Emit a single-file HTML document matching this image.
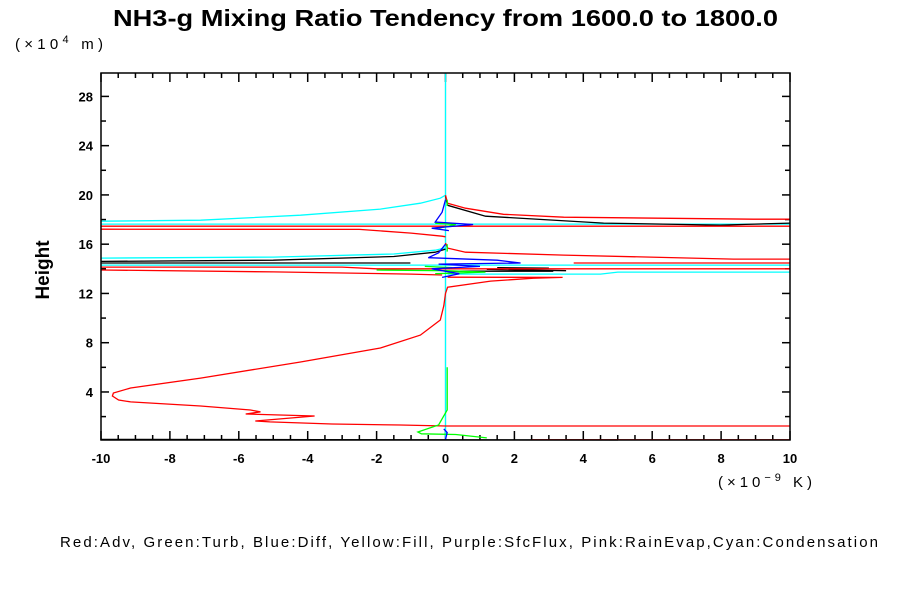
<!DOCTYPE html>
<html><head><meta charset="utf-8"><style>
body{margin:0;background:#fff}
svg{font-family:"Liberation Sans",sans-serif}
</style></head><body>
<svg id="chart" width="900" height="600" xmlns="http://www.w3.org/2000/svg">
<rect width="900" height="600" fill="#fff"/>
<text x="113" y="26" textLength="665" lengthAdjust="spacingAndGlyphs" font-size="23" font-weight="bold">NH3-g Mixing Ratio Tendency from 1600.0 to 1800.0</text>
<text x="15" y="49" textLength="88" lengthAdjust="spacing" font-size="15">(×10<tspan dy="-6" font-size="11">4</tspan><tspan dy="6"> m)</tspan></text>
<text transform="translate(49,270) rotate(-90)" text-anchor="middle" font-size="19" font-weight="bold">Height</text>
<text x="718" y="487" textLength="94" lengthAdjust="spacing" font-size="15">(×10<tspan dy="-6" font-size="11">−9</tspan><tspan dy="6"> K)</tspan></text>
<text x="60" y="547" textLength="818" lengthAdjust="spacing" font-size="15">Red:Adv, Green:Turb, Blue:Diff, Yellow:Fill, Purple:SfcFlux, Pink:RainEvap,Cyan:Condensation</text>
<g id="ticks"></g>
<g id="series"></g>
<rect x="101" y="73" width="689" height="367" fill="none" stroke="#000" stroke-width="1.5"/>
</svg>
<script>
const xTicks=[-10,-8,-6,-4,-2,0,2,4,6,8,10];
const yTicks=[4,8,12,16,20,24,28];
const xDomain=[-10,10];
const yDomain=[0.1,29.9];
// each series: list of polylines of [x (1e-9 K), height (1e4 m)]
const advLines=[
 [[0,12.0],[-0.05,11.0],[-0.15,9.84],[-0.73,8.62],[-1.89,7.57],[-4.21,6.43],[-7.11,5.13],[-9.14,4.32],[-9.64,3.92],[-9.67,3.67],[-9.49,3.35],[-9.14,3.19],[-7.11,2.86],[-5.66,2.54],[-5.37,2.38],[-5.8,2.21],[-3.8,2.05],[-5.52,1.64],[-5.1,1.57],[-3.3,1.4],[-1.31,1.32],[0,1.24],[10,1.24]],
 [[2.5,0.12],[10,0.12]],
 [[0,19.98],[0.06,19.33],[0.58,18.92],[1.68,18.43],[3.43,18.19],[8.94,18.03],[10,18.03]],
 [[-10,17.46],[10,17.46]],
 [[-10,17.22],[-2.5,17.2],[-1.0,16.9],[-0.1,16.65],[0,16.6]],
 [[0,16.1],[0.06,15.68],[0.58,15.35],[3.43,15.11],[8.36,14.79],[10,14.79]],
 [[3.72,14.47],[10,14.47]],
 [[-10,14.14],[-3.0,14.14],[-2,14.0],[10,14.0]],
 [[-10,13.9],[-5,13.75],[-1.0,13.57],[-0.1,13.5]],
 [[0,12.0],[0.06,12.51],[1.31,13.0],[2.55,13.24],[3.4,13.3],[0.06,13.32]]
];
const turbLines=[
 [[0.05,6.0],[0.05,2.54],[-0.2,1.32],[-0.8,0.75],[-0.7,0.6],[0.3,0.55],[1.2,0.27]],
 [[0.05,19.6],[0.05,19.1]],
 [[-0.3,17.7],[0.3,17.6],[-0.2,17.3]],
 [[0.05,16.0],[0.05,15.4]],
 [[-2.0,13.9],[0.0,13.85],[1.16,13.73],[-0.3,13.6]],
 [[-0.6,14.2],[0.2,14.1]]
];
const diffLines=[
 [[0,0.15],[0.05,0.7],[-0.05,1.0]],
 [[0,19.6],[-0.1,18.6],[-0.3,17.8],[0.8,17.6],[-0.4,17.3],[0.1,17.1]],
 [[0,16.0],[-0.2,15.3],[-0.5,14.9],[1.5,14.7],[2.18,14.47],[-0.2,14.38],[1.0,14.2],[-0.4,14.0],[0.4,13.6],[-0.1,13.3]]
];
const condLines=[
 [[0,0.1],[0,29.9]],
 [[-10,17.87],[-7.11,17.95],[-4.21,18.35],[-1.89,18.85],[-0.73,19.33],[-0.15,19.73],[0,19.98]],
 [[-10,17.63],[10,17.63]],
 [[-10,14.87],[-5,14.95],[-1.5,15.2],[-0.3,15.51],[0,15.7]],
 [[-10,14.3],[10,14.3]],
 [[0.06,13.57],[4.5,13.57],[5.0,13.73],[10,13.73]]
];
const blackLines=[
 [[0,19.9],[0.06,19.16],[1.16,18.27],[4.59,17.71],[7.98,17.55],[10,17.71]],
 [[-10,14.47],[-1.02,14.47]],
 [[-10,14.6],[-5,14.7],[-1.5,15.0],[-0.3,15.35],[0,15.6]],
 [[0.06,13.81],[3.13,13.81]],
 [[1.5,14.1],[3.0,14.05],[1.2,13.95],[3.5,13.85]],
 [[-10,0.15],[5,0.1]]
];
const series=[
 {name:'condensation',color:'#00ffff',lines:condLines},
 {name:'black-total',color:'#000000',lines:blackLines},
 {name:'advection',color:'#ff0000',lines:advLines},
 {name:'turbulence',color:'#00ff00',lines:turbLines},
 {name:'diffusion',color:'#0000ff',lines:diffLines}
];
const X0=101,X1=790,Y0=440,Y1=73;
function sx(v){return X0+(v-xDomain[0])/(xDomain[1]-xDomain[0])*(X1-X0);}
function sy(v){return Y0-(v-yDomain[0])/(yDomain[1]-yDomain[0])*(Y0-Y1);}
const NS='http://www.w3.org/2000/svg';
const tg=document.getElementById('ticks');
function line(p,x1,y1,x2,y2,c,w){const l=document.createElementNS(NS,'line');l.setAttribute('x1',x1);l.setAttribute('y1',y1);l.setAttribute('x2',x2);l.setAttribute('y2',y2);l.setAttribute('stroke',c);l.setAttribute('stroke-width',w);p.appendChild(l);return l;}
for(let v=-10;v<=10.001;v+=0.5){
 const major=Math.abs(v-Math.round(v/2)*2)<0.01;
 const len=major?9:5;
 const l1=line(tg,sx(v),Y0,sx(v),Y0-len,'#000',1.5);
 
 
 const l2=line(tg,sx(v),Y1,sx(v),Y1+len,'#000',1.5);
 
 
}
xTicks.forEach(v=>{
 const t=document.createElementNS(NS,'text');
 t.setAttribute('x',sx(v));t.setAttribute('y',Y0+23);t.setAttribute('text-anchor','middle');
 t.setAttribute('font-size','13');t.setAttribute('font-weight','bold');t.textContent=v;
 
 
 tg.appendChild(t);
});
for(let v=2;v<=29;v+=2){
 const major=v%4===0;const len=major?8:5;
 const l1=line(tg,X0,sy(v),X0+len,sy(v),'#000',1.5);
 
 
 const l2=line(tg,X1,sy(v),X1-len,sy(v),'#000',1.5);
 
 
}
yTicks.forEach(v=>{
 const t=document.createElementNS(NS,'text');
 t.setAttribute('x',X0-8);t.setAttribute('y',sy(v)+5);t.setAttribute('text-anchor','end');
 t.setAttribute('font-size','13');t.setAttribute('font-weight','bold');t.textContent=v;
 
 
 tg.appendChild(t);
});
const sg=document.getElementById('series');
const zl=line(sg,sx(0),Y1,sx(0),Y0,'#b0b0b0',1.2);


series.forEach(s=>{
 const g=document.createElementNS(NS,'g');
 
 
 s.lines.forEach(pts=>{
  const p=document.createElementNS(NS,'polyline');
  p.setAttribute('points',pts.map(q=>sx(q[0]).toFixed(1)+','+sy(q[1]).toFixed(1)).join(' '));
  p.setAttribute('fill','none');p.setAttribute('stroke',s.color);p.setAttribute('stroke-width','1.3');
  
  
  g.appendChild(p);
 });
 sg.appendChild(g);
});
</script>
</body></html>
